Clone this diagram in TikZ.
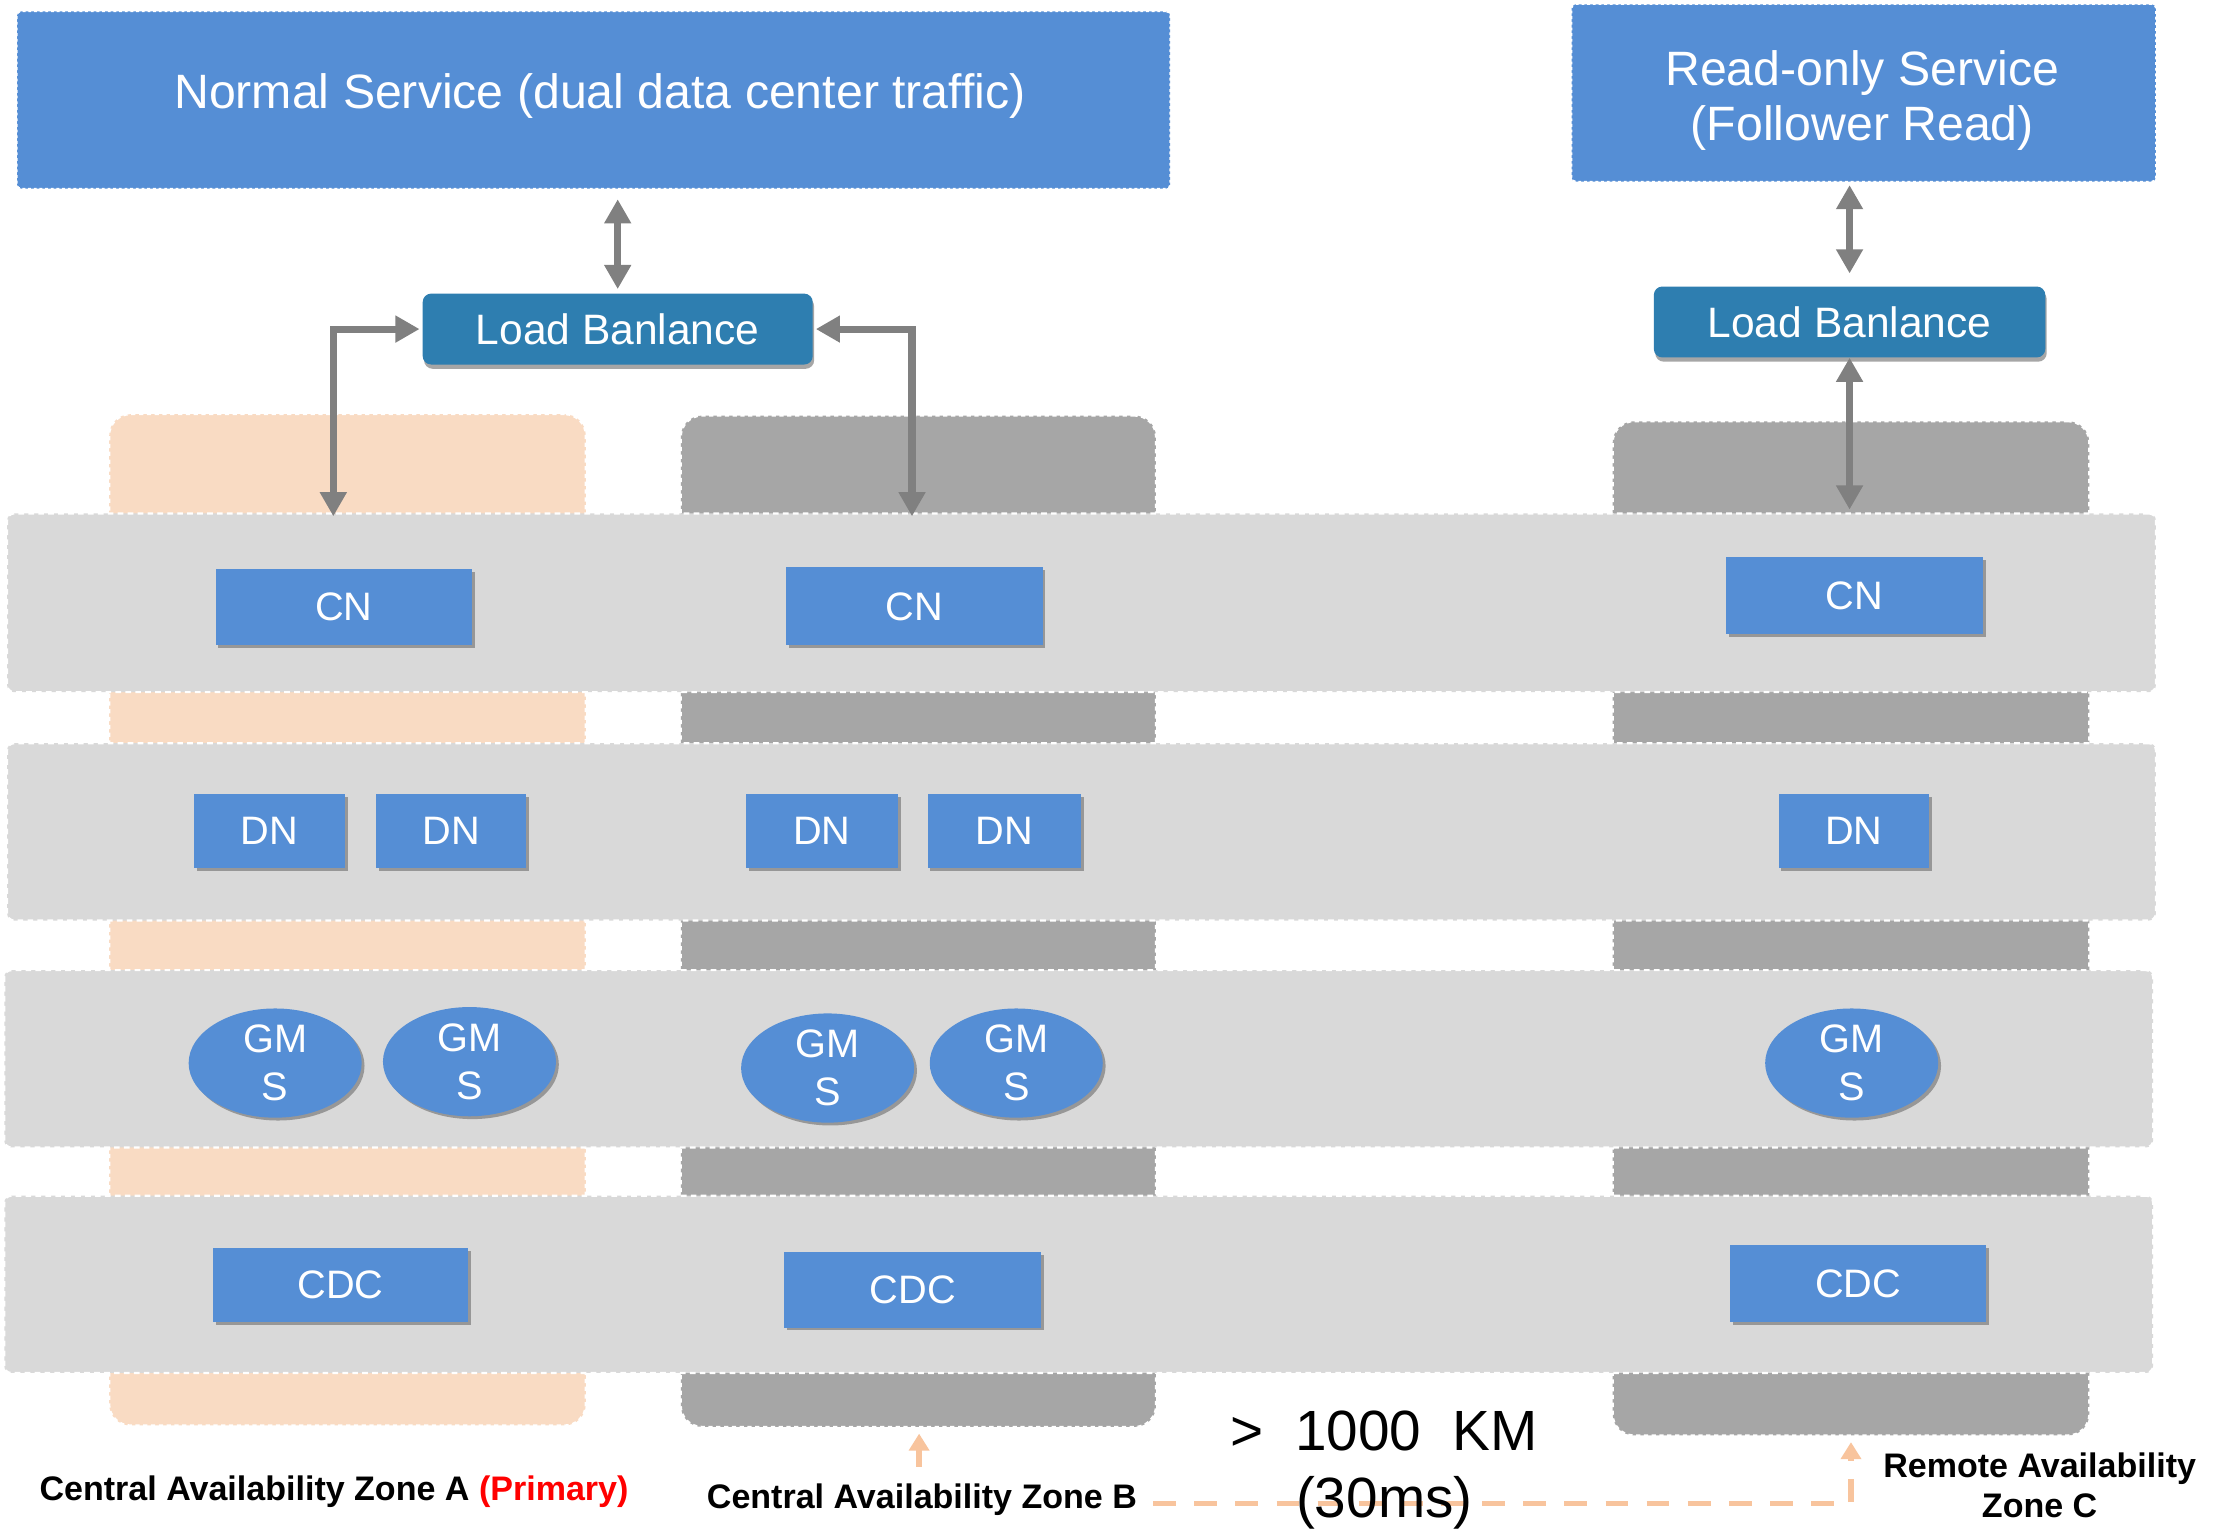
\documentclass[tikz,border=0pt]{standalone}
\usepackage{fontspec}
\setmainfont{Liberation Sans}
\usetikzlibrary{arrows.meta,shapes.geometric,shadows}
\definecolor{nodeblue}{HTML}{558ED5}
\definecolor{lbblue}{HTML}{2E7EB0}
\definecolor{peach}{HTML}{F9DBC3}
\definecolor{colgray}{HTML}{A6A6A6}
\definecolor{bandgray}{HTML}{D9D9D9}
\definecolor{arrowgray}{HTML}{808080}
\definecolor{orangeln}{HTML}{F8C49D}
\begin{document}
\begin{tikzpicture}[x=1pt,y=-1pt,
 svc/.style={draw=white, dash pattern=on 2pt off 2pt, line width=1pt, fill=nodeblue, rounded corners=3pt, inner sep=0pt, text=white, align=center, font=\fontsize{34}{39}\selectfont},
 svctext/.style={text=white, align=center, font=\fontsize{34}{39}\selectfont, inner sep=0pt},
 lbbox/.style={fill=lbblue, rounded corners=6pt, inner sep=0pt, text=white, minimum width=275pt, minimum height=50pt, font=\fontsize{30}{36}\selectfont, drop shadow={shadow xshift=1pt, shadow yshift=-3pt, opacity=0.35, fill=black}},
 zone/.style={draw=white, dash pattern=on 3pt off 2.5pt, line width=1.5pt, rounded corners=15pt, inner sep=0pt},
 band/.style={fill=bandgray, draw=white, dash pattern=on 4pt off 3pt, line width=1.5pt, rounded corners=5pt, inner sep=0pt},
 box/.style={fill=nodeblue, inner sep=0pt, text=white, font=\fontsize{28}{34}\selectfont, drop shadow={shadow xshift=2pt, shadow yshift=-2pt, opacity=0.3, fill=black}},
 gms/.style={ellipse, fill=nodeblue, inner sep=0pt, minimum width=122pt, minimum height=77pt, text=white, align=center, font=\fontsize{28}{34}\selectfont, drop shadow={shadow xshift=2pt, shadow yshift=-2pt, opacity=0.3, fill=black}},
 garrow/.style={draw=arrowgray, line width=5pt, {Triangle[width=18pt,length=17pt]}-{Triangle[width=18pt,length=17pt]}},
 oarrow/.style={draw=orangeln, line width=4pt, -{Triangle[width=14pt,length=12pt]}},
 lbl/.style={font=\bfseries\fontsize{24}{28}\selectfont, align=center}
]
\useasboundingbox (0,0) rectangle (1568,1084);
\fill[white] (0,0) rectangle (1568,1084);

% zone columns
\node[zone, fill=peach, minimum width=336pt, minimum height=713pt] (colA) at (245,648.5) {};
\node[zone, fill=colgray, minimum width=335pt, minimum height=713pt] (colB) at (647.5,649.5) {};
\node[zone, fill=colgray, minimum width=336pt, minimum height=715pt] (colC) at (1305,654.5) {};

% bands
\node[band, minimum width=1515pt, minimum height=126pt] (band1) at (762.5,425) {};
\node[band, minimum width=1515pt, minimum height=125pt] (band2) at (762.5,586.5) {};
\node[band, minimum width=1515pt, minimum height=125pt] (band3) at (760.5,746.5) {};
\node[band, minimum width=1515pt, minimum height=125pt] (band4) at (760.5,905.5) {};

% services
\node[svc, minimum width=813pt, minimum height=125pt] (ns) at (418.5,70.5) {};
\node[svctext] (nstext) at (423,68) {Normal Service (dual data center traffic)};
\node[svc, minimum width=412pt, minimum height=125pt] (ro) at (1314,65.5) {};
\node[svctext] (rotext) at (1313,71) {Read-only Service\\(Follower Read)};

% load balancers
\node[lbbox] (lb1) at (435.5,232) {Load Banlance};
\node[lbbox, minimum width=276pt] (lb2) at (1304,227) {Load Banlance};

% CN
\node[box, minimum width=181pt, minimum height=54pt] (cn1) at (242.5,428) {CN};
\node[box, minimum width=181pt, minimum height=55pt] (cn2) at (644.5,427.5) {CN};
\node[box, minimum width=181pt, minimum height=54pt] (cn3) at (1307.5,420) {CN};

% DN
\node[box, minimum width=106pt, minimum height=52pt] (dn1) at (190,586) {DN};
\node[box, minimum width=106pt, minimum height=52pt] (dn2) at (318,586) {DN};
\node[box, minimum width=107pt, minimum height=52pt] (dn3) at (579.5,586) {DN};
\node[box, minimum width=108pt, minimum height=52pt] (dn4) at (708,586) {DN};
\node[box, minimum width=106pt, minimum height=52pt] (dn5) at (1307,586) {DN};

% GMS
\node[gms] (g1) at (194,749.5) {GM\\S};
\node[gms] (g2) at (331,748.5) {GM\\S};
\node[gms] (g3) at (583.5,753) {GM\\S};
\node[gms] (g4) at (716.5,749.5) {GM\\S};
\node[gms] (g5) at (1305.5,749.5) {GM\\S};

% CDC
\node[box, minimum width=180pt, minimum height=52pt] (cdc1) at (240,906) {CDC};
\node[box, minimum width=181pt, minimum height=53pt] (cdc2) at (643.5,909.5) {CDC};
\node[box, minimum width=180pt, minimum height=54pt] (cdc3) at (1310,905) {CDC};

% gray arrows
\draw[garrow, shorten <=7pt, shorten >=3pt] (ns.south -| lb1.north) -- (lb1.north);
\coordinate (pA) at (235,364);
\coordinate (pB) at (643,364);
\draw[garrow, shorten >=2pt] (pA) |- (lb1.west);
\draw[garrow, shorten >=2pt] (pB) |- (lb1.east);
\draw[garrow, shorten <=2pt, shorten >=9pt] (ro.south -| lb2.north) -- (lb2.north);
\draw[garrow, shorten >=2pt] (lb2.south) -- (lb2.south |- band1.north);

% labels
\node[lbl] (za) at (235.5,1052) {Central Availability Zone A \textcolor{red}{(Primary)}};
\node[lbl] (zbl) at (650,1057) {Central Availability Zone B};
\node[lbl] (zc) at (1438,1047) {Remote Availability\\Zone C};

% orange arrows
\coordinate (zb) at (648,1034);
\draw[oarrow, shorten >=4pt] (zb) -- (zb |- colB.south);
\coordinate (d0) at (813,1060);
\draw[oarrow, dash pattern=on 16pt off 13pt, shorten >=4pt] (d0) -| (colC.south);

\node[align=center, font=\fontsize{40}{47}\selectfont] (dist) at (976,1036.5) {>~~1000~~KM\\(30ms)};
\end{tikzpicture}
\end{document}
